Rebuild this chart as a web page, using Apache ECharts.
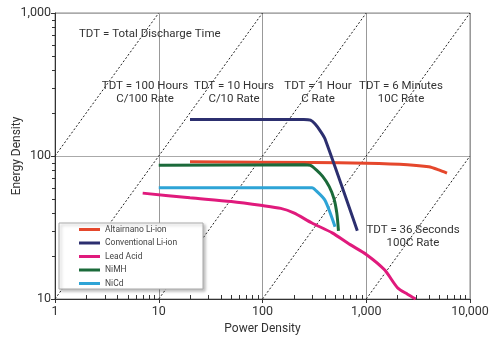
<!DOCTYPE html>
<html>
<head>
<meta charset="utf-8">
<script src="https://cdn.jsdelivr.net/npm/echarts@6/dist/echarts.min.js"></script>
<style>html,body{margin:0;padding:0;background:#fff}#c{width:500px;height:340px}</style>
</head>
<body>
<div id="c"></div>
<script>
// ---- data ----
var xTicks = [1, 10, 100, 1000, 10000];
var yTicks = [10, 100, 1000];
var seriesNames = ['Altairnano Li-ion', 'Conventional Li-ion', 'Lead Acid', 'NiMH', 'NiCd'];
var altairnano = [[20,91],[300,90],[1000,89],[2500,87],[4000,84],[5000,80],[6000,76]];
var conventional = [[20,180],[250,180],[290,178],[320,168],[360,150],[400,132],[820,30]];
var leadAcid = [[7,55],[20,51],[50,48],[100,45],[150,43],[200,40],[300,34],[470,29],[700,24],[1000,20.5],[1500,16],[2000,12],[2500,10.8],[3000,10]];
var nimh = [[10,86],[250,87],[290,86],[330,80],[380,72],[440,61],[490,50],[520,40],[540,30]];
var nicd = [[10,60],[300,60],[330,57],[400,49],[500,32]];
var tdtLines = [
  [[1,100],[10,1000]],
  [[1,10],[100,1000]],
  [[10,10],[1000,1000]],
  [[100,10],[10000,1000]],
  [[1000,10],[10000,100]]
];
var minorX = [2,3,4,5,6,7,8,9,20,30,40,50,60,70,80,90,200,300,400,500,600,700,800,900,2000,3000,4000,5000,6000,7000,8000,9000];
var minorY = [20,30,40,50,60,70,80,90,200,300,400,500,600,700,800,900];
var colors = ['#e5472c', '#2c2f6f', '#e01a7c', '#1b6a3a', '#2ea4d6'];

var FONT = "Roboto,'Liberation Sans',sans-serif";

function fmt(v){ return String(v).replace(/\B(?=(\d{3})+(?!\d))/g, ','); }

var series = [];
tdtLines.forEach(function(seg){
  series.push({
    type:'line', data: seg, symbol:'none', silent:true,
    lineStyle:{color:'#222', width:1, type:[2,2]}, z:1
  });
});
var dataSets = [altairnano, conventional, leadAcid, nimh, nicd];
dataSets.forEach(function(d, i){
  series.push({
    name: seriesNames[i], type:'line', data: d, symbol:'none', smooth:0.25,
    lineStyle:{color:colors[i], width:3}, itemStyle:{color:colors[i]}, z:3
  });
});

function note(text, x, y, align){
  return {type:'text', z:10, style:{text:text, x:x, y:y, align:align||'center', verticalAlign:'middle',
    fill:'#333', font:'11.5px ' + FONT, lineHeight:13}};
}

var baseGraphic = [
  {type:'rect', z:25, shape:{x:59, y:223, width:144, height:66},
   style:{fill:'#fff', stroke:'#aaa', lineWidth:1, shadowColor:'rgba(0,0,0,0.25)', shadowBlur:3, shadowOffsetX:2, shadowOffsetY:2}},
  note('TDT = Total Discharge Time', 79, 34, 'left'),
  note('TDT = 100 Hours\nC/100 Rate', 145, 93),
  note('TDT = 10 Hours\nC/10 Rate', 234, 93),
  note('TDT = 1 Hour\nC Rate', 318, 93),
  note('TDT = 6 Minutes\n10C Rate', 401, 93),
  note('TDT = 36 Seconds\n100C Rate', 413, 237)
];

var chart = echarts.init(document.getElementById('c'));
chart.setOption({
  animation:false,
  grid:{left:55, right:30, top:13, bottom:41, show:true, borderColor:'#888', borderWidth:1,
        outerBoundsMode:'none'},
  xAxis:{
    type:'log', logBase:10, min:xTicks[0], max:xTicks[xTicks.length-1],
    name:'Power Density', nameLocation:'middle', nameGap:24, nameMoveOverlap:false,
    nameTextStyle:{color:'#333', fontSize:12, fontFamily:FONT},
    axisLine:{lineStyle:{color:'#333'}},
    axisTick:{show:true, length:4, lineStyle:{color:'#333'}},
    axisLabel:{color:'#333', fontSize:12.5, fontFamily:FONT, margin:6, formatter:function(v){return fmt(v);}},
    splitLine:{show:true, lineStyle:{color:'#999'}}
  },
  yAxis:{
    type:'log', logBase:10, min:yTicks[0], max:yTicks[yTicks.length-1],
    name:'Energy Density', nameLocation:'middle', nameGap:32, nameMoveOverlap:false,
    nameTextStyle:{color:'#333', fontSize:12, fontFamily:FONT},
    axisLine:{lineStyle:{color:'#333'}},
    axisTick:{show:true, length:4, lineStyle:{color:'#333'}},
    axisLabel:{color:'#333', fontSize:12.5, fontFamily:FONT, margin:4, formatter:function(v){return fmt(v);}},
    splitLine:{show:true, lineStyle:{color:'#aaa'}}
  },
  legend:{
    data: seriesNames, orient:'vertical', left:59, top:223, z:30,
    itemWidth:21, itemHeight:3, itemGap:2.5, icon:'rect',
    padding:[1,10,1,20],
    textStyle:{color:'#444', fontSize:8.5, fontFamily:FONT, lineHeight:11}
  },
  graphic: baseGraphic,
  series: series
});

// minor ticks positioned through the chart's own log scales
var tickGraphic = [];
minorX.forEach(function(v){
  var p = chart.convertToPixel({gridIndex:0}, [v, yTicks[0]]);
  if (p) tickGraphic.push({type:'line', z:20, silent:true,
    shape:{x1:Math.round(p[0])+0.5, y1:p[1], x2:Math.round(p[0])+0.5, y2:p[1]-4},
    style:{stroke:'#333', lineWidth:1}});
});
minorY.forEach(function(v){
  var p = chart.convertToPixel({gridIndex:0}, [xTicks[0], v]);
  if (p) tickGraphic.push({type:'line', z:20, silent:true,
    shape:{x1:p[0], y1:Math.round(p[1])+0.5, x2:p[0]-3, y2:Math.round(p[1])+0.5},
    style:{stroke:'#333', lineWidth:1}});
});
chart.setOption({graphic: baseGraphic.concat(tickGraphic)});
</script>
</body>
</html>
